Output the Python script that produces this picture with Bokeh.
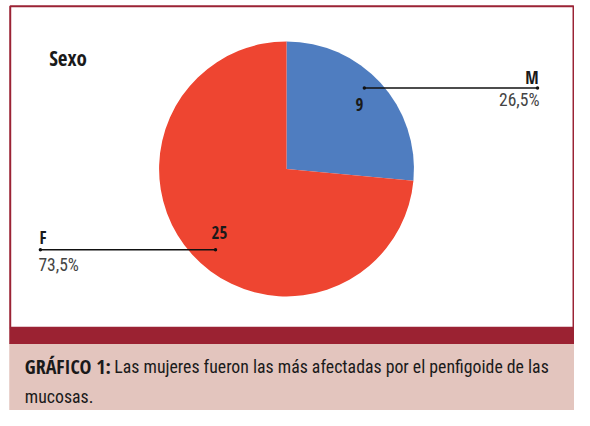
import math
from bokeh.plotting import figure
from bokeh.models import Range1d, ColumnDataSource
from bokeh.core.properties import value
from bokeh.embed import file_html
from bokeh.resources import INLINE

# ---- data ----
categories = ["M", "F"]
counts = [9, 25]
percent_labels = ["26,5%", "73,5%"]
colors = ["#4F7DC0", "#EE4531"]
title_text = "Sexo"
caption_bold = "GRÁFICO 1:"
caption_line1 = "Las mujeres fueron las más afectadas por el penfigoide de las"
caption_line2 = "mucosas."

BOLD = value("Open Sans Condensed")
REG = value("Roboto Condensed")

# layout in reference pixel coordinates (y measured downward, converted with -y)
def Y(v):
    return -v

SH = 7  # baseline correction for rendered text

p = figure(width=574, height=410, output_backend="svg", toolbar_location=None,
           x_range=Range1d(0, 590), y_range=Range1d(-426, 0),
           min_border=0, outline_line_color=None)
p.axis.visible = False
p.grid.visible = False
p.background_fill_color = "white"
p.border_fill_color = "white"

# caption boxes
p.quad(left=[9], right=[590], top=[Y(356)], bottom=[Y(426)], fill_color="#E3C5BE", line_color=None)
p.quad(left=[9], right=[590], top=[Y(340)], bottom=[Y(357)], fill_color="#9B2232", line_color=None)
# white frame
p.quad(left=[10], right=[589], top=[Y(6)], bottom=[Y(340)], fill_color="white",
       line_color="#9B2335", line_width=2)

# pie
total = sum(counts)
cum = 0
starts, ends = [], []
for c in counts:
    a_end = math.pi / 2 - 2 * math.pi * cum / total
    cum += c
    a_start = math.pi / 2 - 2 * math.pi * cum / total
    starts.append(a_start)
    ends.append(a_end)
src = ColumnDataSource(dict(x=[294] * len(counts), y=[Y(175)] * len(counts),
                            start=starts, end=ends, color=colors, cat=categories))
p.wedge(x="x", y="y", radius=131, start_angle="start", end_angle="end",
        fill_color="color", line_color=None, source=src)

# title
p.text(x=[50], y=[Y(68 - SH - 1)], text=[title_text], text_font=BOLD, text_font_size="21px",
       text_font_style="bold", text_color="#1a1a1a", text_baseline="alphabetic", text_align="left")

# leader lines with end dots
p.multi_line(xs=[[374, 552], [41, 221]], ys=[[Y(91), Y(91)], [Y(259), Y(259)]],
             line_color="#111111", line_width=1.5)
p.scatter(x=[374, 552, 41, 221], y=[Y(91), Y(91), Y(259), Y(259)], size=3.5,
          fill_color="#111111", line_color=None)

# category labels
p.text(x=[553], y=[Y(87 - SH)], text=[categories[0]], text_font=BOLD, text_font_size="17px",
       text_font_style="bold", text_color="#1a1a1a", text_baseline="alphabetic", text_align="right")
p.text(x=[40], y=[Y(253 - SH)], text=[categories[1]], text_font=BOLD, text_font_size="17px",
       text_font_style="bold", text_color="#1a1a1a", text_baseline="alphabetic", text_align="left")
# percentages
p.text(x=[554], y=[Y(110 - SH)], text=[percent_labels[0]], text_font=REG, text_font_size="17.5px",
       text_color="#444444", text_baseline="alphabetic", text_align="right")
p.text(x=[39], y=[Y(282 - SH)], text=[percent_labels[1]], text_font=REG, text_font_size="17.5px",
       text_color="#444444", text_baseline="alphabetic", text_align="left")
# counts
p.text(x=[369], y=[Y(114 - SH + 1)], text=[str(counts[0])], text_font=BOLD, text_font_size="17px",
       text_font_style="bold", text_color="#1a1a1a", text_baseline="alphabetic", text_align="center")
p.text(x=[225], y=[Y(247 - SH + 1)], text=[str(counts[1])], text_font=BOLD, text_font_size="17px",
       text_font_style="bold", text_color="#1a1a1a", text_baseline="alphabetic", text_align="center")

# caption
p.text(x=[25], y=[Y(387 - SH)], text=[caption_bold], text_font=BOLD, text_font_size="20px",
       text_font_style="bold", text_color="#1a1a1a", text_baseline="alphabetic", text_align="left")
p.text(x=[117], y=[Y(387 - SH)], text=[caption_line1], text_font=REG, text_font_size="17.8px",
       text_color="#1a1a1a", text_baseline="alphabetic", text_align="left")
p.text(x=[25], y=[Y(418 - SH)], text=[caption_line2], text_font=REG, text_font_size="17.8px",
       text_color="#1a1a1a", text_baseline="alphabetic", text_align="left")

open("out.html", "w").write(file_html(p, INLINE))
